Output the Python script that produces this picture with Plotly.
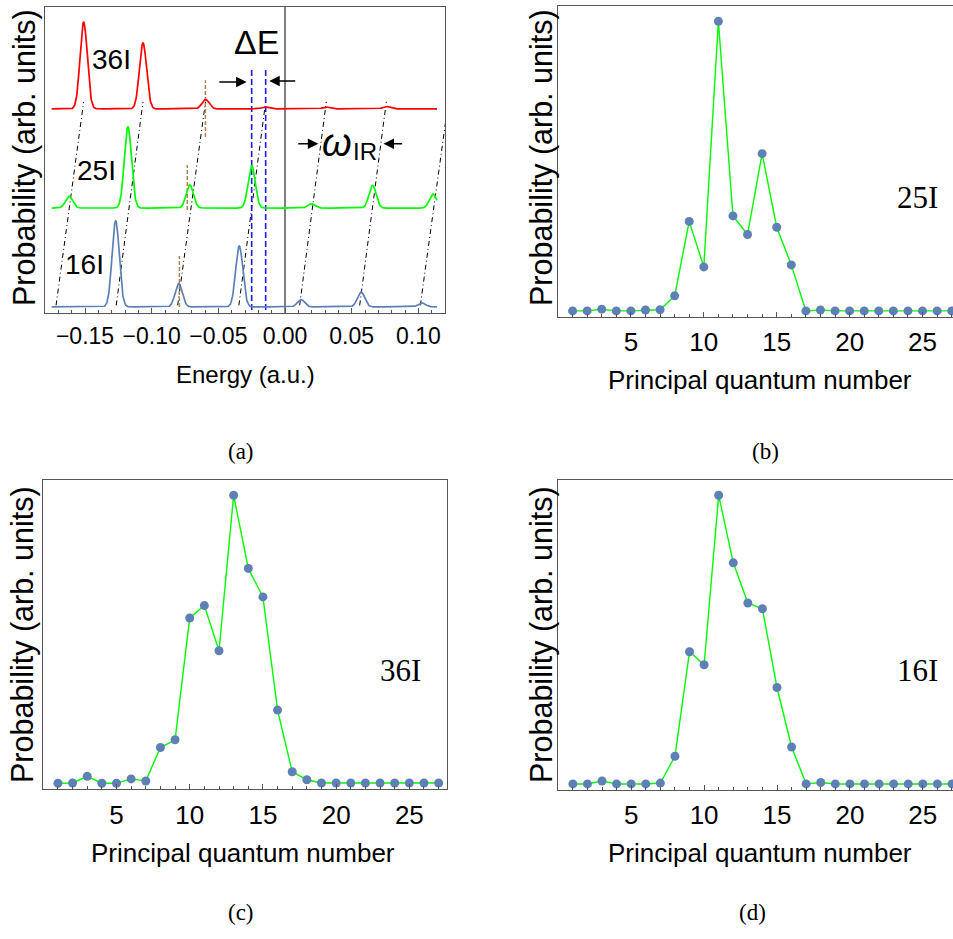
import numpy as np
import plotly.graph_objects as go

# ---------------- data ----------------
# (a) photoelectron-like spectra: peak centres (a.u.) and relative heights
RED_CENTERS = [-0.151, -0.1065, -0.0596, -0.015, 0.0308, 0.076]
RED_HEIGHTS = [0.284, 0.215, 0.031, 0.006, 0.006, 0.008]
GREEN_CENTERS = [-0.162, -0.1178, -0.0714, -0.025, 0.020, 0.0657, 0.111]
GREEN_HEIGHTS = [0.038, 0.265, 0.076, 0.139, 0.014, 0.074, 0.046]
BLUE_CENTERS = [-0.127, -0.0797, -0.0343, 0.012, 0.057, 0.1027]
BLUE_HEIGHTS = [0.281, 0.076, 0.199, 0.024, 0.049, 0.013]
BASELINES = {"36I": 0.667, "25I": 0.343, "16I": 0.02}
PEAK_WIDTH = 0.0027
ENERGY_SPAN = (-0.175, 0.114)

# dash-dot guide lines joining the shifted sidebands (bottom -> top energies)
GUIDE_BOTTOM = [-0.1717, -0.1266, -0.0805, -0.0346, 0.011, 0.056, 0.1015]
GUIDE_TOP = [-0.151, -0.1065, -0.0596, -0.0145, 0.031, 0.076, 0.1225]
GUIDE_Y = (0.025, 0.69)

# brown markers on the third sideband of each spectrum: (energy, y0, y1)
BROWN_MARKS = [(-0.0597, 0.575, 0.761), (-0.0733, 0.337, 0.484), (-0.0792, 0.02, 0.186)]
# blue dashed lines bracketing Delta E
DELTA_E_LINES = [-0.025, -0.0145]

ENERGY_TICKS = [-0.15, -0.10, -0.05, 0.0, 0.05, 0.10]
ENERGY_TICK_TEXT = ["\u22120.15", "\u22120.10", "\u22120.05", "0.00", "0.05", "0.10"]

# (b)-(d) population versus principal quantum number
N = list(range(1, 28))
P_25I = [0, 0, 0.006, 0, 0, 0.003, 0.004, 0.052, 0.309, 0.152, 1.0, 0.328, 0.264,
         0.543, 0.289, 0.159, 0, 0.003, 0, 0, 0, 0, 0, 0, 0, 0, 0]
P_36I = [0, 0.001, 0.024, 0, 0, 0.015, 0.008, 0.124, 0.151, 0.574, 0.617, 0.460, 1.0,
         0.746, 0.647, 0.254, 0.040, 0.012, 0.001, 0.001, 0.001, 0.001, 0.001, 0.001,
         0.001, 0.001, 0.001]
P_16I = [0, 0, 0.010, 0, 0, 0, 0.003, 0.096, 0.458, 0.413, 1.0, 0.766, 0.627, 0.607,
         0.334, 0.128, 0, 0.005, 0, 0, 0, 0, 0, 0, 0, 0, 0]
N_TICKS = [5, 10, 15, 20, 25]

# ---------------- styling ----------------
W, H = 953, 939
SANS = "Liberation Sans"
SERIF = "Liberation Serif"
FRAME = "#555555"
DOT = "#5e81b5"
LIME = "#00ff00"


def fx(p):
    return p / W


def fy(p):
    return 1 - p / H


def spectrum(base, centers, heights):
    e = np.linspace(ENERGY_SPAN[0], ENERGY_SPAN[1], 900)
    y = np.full_like(e, base)
    for c, h in zip(centers, heights):
        y += h * np.exp(-0.5 * ((e - c) / PEAK_WIDTH) ** 2)
    return e, y


fig = go.Figure()

# ---- panel (a) ----
for e0, e1 in zip(GUIDE_BOTTOM, GUIDE_TOP):
    fig.add_trace(go.Scatter(x=[e0, e1], y=list(GUIDE_Y), mode="lines",
                             line=dict(color="black", width=1, dash="5px,3px,1px,3px"),
                             xaxis="x", yaxis="y", showlegend=False, hoverinfo="skip"))

for e, y0, y1 in BROWN_MARKS:
    fig.add_trace(go.Scatter(x=[e, e], y=[y0, y1], mode="lines",
                             line=dict(color="#b0804f", width=1.5, dash="4px,2px"),
                             xaxis="x", yaxis="y", showlegend=False, hoverinfo="skip"))

for e in DELTA_E_LINES:
    fig.add_trace(go.Scatter(x=[e, e], y=[-0.02, 0.794], mode="lines",
                             line=dict(color="#1a1aff", width=1.6, dash="6px,3px"),
                             xaxis="x", yaxis="y", showlegend=False, hoverinfo="skip"))

fig.add_trace(go.Scatter(x=[0, 0], y=[0, 1], mode="lines",
                         line=dict(color="black", width=1),
                         xaxis="x", yaxis="y", showlegend=False, hoverinfo="skip"))

for (name, cen, hei, col) in [("36I", RED_CENTERS, RED_HEIGHTS, "#ff0000"),
                              ("25I", GREEN_CENTERS, GREEN_HEIGHTS, LIME),
                              ("16I", BLUE_CENTERS, BLUE_HEIGHTS, DOT)]:
    e, y = spectrum(BASELINES[name], cen, hei)
    fig.add_trace(go.Scatter(x=e, y=y, mode="lines", line=dict(color=col, width=1.7),
                             xaxis="x", yaxis="y", showlegend=False, hoverinfo="skip"))

# ---- panels (b), (c), (d) ----
for vals, ax in [(P_25I, "2"), (P_36I, "3"), (P_16I, "4")]:
    fig.add_trace(go.Scatter(x=N, y=vals, mode="lines+markers",
                             line=dict(color=LIME, width=1.4),
                             marker=dict(color=DOT, size=9),
                             xaxis="x" + ax, yaxis="y" + ax, showlegend=False))

common_x = dict(showgrid=False, zeroline=False, showline=True, linecolor=FRAME,
                linewidth=1, ticks="inside", ticklen=5, tickcolor=FRAME)
common_y = dict(showgrid=False, zeroline=False, showline=True, linecolor=FRAME,
                linewidth=1, showticklabels=False, ticks="")

layout = dict(
    width=W, height=H, margin=dict(l=0, r=0, t=0, b=0),
    paper_bgcolor="white", plot_bgcolor="white", showlegend=False,
    font=dict(family=SANS, color="black"),
    xaxis=dict(common_x, domain=[fx(45), fx(445)], range=[-0.18, 0.12], anchor="y",
               mirror=True, tickvals=ENERGY_TICKS, ticktext=ENERGY_TICK_TEXT,
               tickfont=dict(size=23, family=SANS), ticklabelstandoff=2,
               minor=dict(tickmode="linear", tick0=0, dtick=0.01, ticks="inside",
                          ticklen=3, tickcolor=FRAME)),
    yaxis=dict(common_y, domain=[fy(313), fy(7)], range=[0, 1], anchor="x", mirror=True),
    xaxis2=dict(common_x, domain=[fx(558), 1], range=[0, 27.09], anchor="y2", mirror=True,
                tickvals=N_TICKS, tickfont=dict(size=26, family=SANS), ticklabelstandoff=2,
                minor=dict(tickmode="linear", tick0=0, dtick=1, ticks="inside",
                           ticklen=3, tickcolor=FRAME)),
    yaxis2=dict(common_y, domain=[fy(317), fy(6)], range=[-0.021, 1.053], anchor="x2",
                mirror=False),
    xaxis3=dict(common_x, domain=[fx(43.3), fx(447.4)], range=[0, 27.6], anchor="y3",
                mirror=True, tickvals=N_TICKS, tickfont=dict(size=26, family=SANS),
                ticklabelstandoff=2,
                minor=dict(tickmode="linear", tick0=0, dtick=1, ticks="inside",
                           ticklen=3, tickcolor=FRAME)),
    yaxis3=dict(common_y, domain=[fy(789.3), fy(480)], range=[-0.021, 1.053], anchor="x3",
                mirror=True),
    xaxis4=dict(common_x, domain=[fx(558.3), 1], range=[0, 27.07], anchor="y4", mirror=True,
                tickvals=N_TICKS, tickfont=dict(size=26, family=SANS), ticklabelstandoff=2,
                minor=dict(tickmode="linear", tick0=0, dtick=1, ticks="inside",
                           ticklen=3, tickcolor=FRAME)),
    yaxis4=dict(common_y, domain=[fy(790), fy(480)], range=[-0.021, 1.053], anchor="x4",
                mirror=False),
)
fig.update_layout(**layout)

ann = []


def paper_text(text, x, y, size, family=SANS, angle=0):
    ann.append(dict(text=text, x=fx(x), y=fy(y), xref="paper", yref="paper",
                    showarrow=False, xanchor="center", yanchor="middle",
                    textangle=angle, font=dict(size=size, family=family, color="black")))


# axis titles
for x, y in [(24, 158), (541, 158), (22, 635), (541, 635)]:
    paper_text("Probability (arb. units)", x, y, 30.5, angle=-90)
paper_text("Energy (a.u.)", 245, 375, 24)
paper_text("Principal quantum number", 760, 380, 26)
paper_text("Principal quantum number", 243, 853, 26)
paper_text("Principal quantum number", 760, 853, 26)

# sub-figure captions
for t, x, y in [("(a)", 241, 451), ("(b)", 765, 451), ("(c)", 241, 912), ("(d)", 752, 912)]:
    paper_text(t, x, y, 23, family=SERIF)

# serif tags inside (b)-(d)
paper_text("25I", 917, 197, 31, family=SERIF)
paper_text("36I", 400, 670, 31, family=SERIF)
paper_text("16I", 917, 670, 31, family=SERIF)


def data_text(text, x, y, size):
    ann.append(dict(text=text, x=x, y=y, xref="x", yref="y", showarrow=False,
                    xanchor="center", yanchor="middle",
                    font=dict(size=size, family=SANS, color="black")))


data_text("36I", -0.1303, 0.827, 28)
data_text("25I", -0.1416, 0.467, 28)
data_text("16I", -0.1504, 0.157, 28)
data_text("\u0394E", -0.0213, 0.887, 34)
data_text("<i>\u03c9</i>", 0.0388, 0.556, 38)
data_text("IR", 0.0602, 0.527, 24)


def arrow(x_tail, x_head, y):
    ann.append(dict(text="", x=x_head, y=y, ax=x_tail, ay=y, xref="x", yref="y",
                    axref="x", ayref="y", showarrow=True, arrowhead=2, arrowsize=1.4,
                    arrowwidth=1.5, arrowcolor="black"))


arrow(-0.0504, -0.0288, 0.755)
arrow(0.0088, -0.0118, 0.758)
arrow(0.0088, 0.0250, 0.553)
arrow(0.0890, 0.0739, 0.553)

fig.update_layout(annotations=ann)
fig.write_html("out.html")
